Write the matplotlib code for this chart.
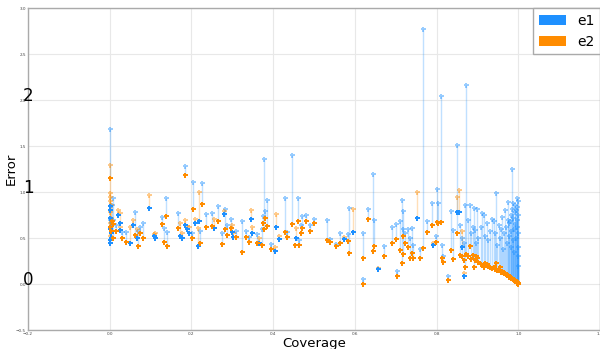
import numpy as np
import matplotlib
matplotlib.use("Agg")
import matplotlib.pyplot as plt
from matplotlib.patches import Patch

# ---- data (coverage, e1, e2 per item) ----
coverage = [
    0.000, 0.000, 0.001, 0.001, 0.000, 0.002, 0.000, 0.001, 0.002, 0.000,
    0.001, 0.003, 0.005, 0.008, 0.008, 0.015, 0.020, 0.025, 0.025, 0.030,
    0.041, 0.049, 0.058, 0.061, 0.066, 0.069, 0.075, 0.082, 0.096, 0.108,
    0.112, 0.127, 0.133, 0.137, 0.140, 0.166, 0.172, 0.176, 0.184, 0.184,
    0.188, 0.195,
    0.203, 0.201, 0.208, 0.216, 0.218, 0.220, 0.227, 0.235, 0.250, 0.256,
    0.265, 0.275, 0.280, 0.283, 0.286, 0.297, 0.300, 0.302, 0.309, 0.324,
    0.333, 0.341, 0.347, 0.349, 0.361, 0.366, 0.372, 0.374, 0.377, 0.379,
    0.386, 0.395, 0.405, 0.407, 0.415, 0.429, 0.433, 0.445,
    0.454, 0.456, 0.460, 0.463, 0.469, 0.471, 0.480, 0.489, 0.500, 0.533,
    0.539, 0.553, 0.564, 0.574, 0.584, 0.586, 0.595, 0.619, 0.621, 0.632,
    0.645, 0.648, 0.656, 0.672, 0.692, 0.700, 0.704, 0.711, 0.715, 0.717,
    0.719, 0.723, 0.730, 0.735, 0.739, 0.743, 0.752,
    0.760, 0.768, 0.776, 0.790, 0.792, 0.799, 0.801, 0.803, 0.811, 0.813,
    0.815, 0.829, 0.835, 0.841, 0.849, 0.851, 0.854, 0.858, 0.862, 0.863,
    0.866, 0.868, 0.870, 0.873, 0.876, 0.881, 0.884, 0.888, 0.891,
    0.893, 0.896, 0.899, 0.902, 0.908, 0.911, 0.915, 0.918, 0.923, 0.927,
    0.931, 0.935, 0.940, 0.943, 0.946, 0.949, 0.952, 0.955, 0.958, 0.960,
    0.963, 0.966, 0.968, 0.970, 0.972, 0.974, 0.976, 0.977, 0.978, 0.980,
    0.981, 0.982, 0.983, 0.984, 0.985, 0.986, 0.987, 0.988, 0.989, 0.990,
    0.991, 0.992, 0.993, 0.994, 0.995, 0.996, 0.997, 0.998, 0.998, 0.999,
    0.999, 1.000, 1.000, 1.000, 1.000,
]
e1 = [
    1.68, 0.80, 0.72, 0.62, 0.85, 0.55, 0.70, 0.48, 0.66, 0.45,
    0.60, 0.50, 0.86, 0.94, 0.70, 0.64, 0.75, 0.66, 0.59, 0.57,
    0.56, 0.45, 0.64, 0.78, 0.50, 0.58, 0.62, 0.66, 0.83, 0.52,
    0.50, 0.73, 0.61, 0.93, 0.57, 0.77, 0.52, 0.50, 1.28, 0.64,
    0.60, 0.55,
    1.11, 0.55, 0.66, 0.41, 0.68, 0.58, 1.10, 0.76, 0.77, 0.61,
    0.85, 0.55, 0.76, 0.82, 0.64, 0.71, 0.56, 0.51, 0.58, 0.69,
    0.58, 0.51, 0.71, 0.55, 0.54, 0.45, 0.60, 0.74, 1.36, 0.79,
    0.91, 0.44, 0.36, 0.62, 0.49, 0.94, 0.56, 1.40,
    0.42, 0.50, 0.93, 0.48, 0.64, 0.74, 0.75, 0.64, 0.71, 0.70,
    0.49, 0.43, 0.55, 0.49, 0.54, 0.83, 0.56, 0.05, 0.55, 0.82,
    1.20, 0.70, 0.16, 0.41, 0.62, 0.65, 0.14, 0.68, 0.91, 0.60,
    0.79, 0.55, 0.60, 0.50, 0.61, 0.42, 0.72,
    0.38, 2.77, 0.69, 0.88, 0.42, 0.52, 1.03, 0.88, 2.04, 0.42,
    0.30, 0.09, 0.79, 0.59, 1.51, 0.78, 0.78, 0.64, 0.50, 0.40,
    0.45, 0.09, 0.86, 2.16, 0.70, 0.86, 0.55, 0.62, 0.83,
    0.59, 0.45, 0.82, 0.50, 0.62, 0.77, 0.75, 0.52, 0.66, 0.48,
    0.58, 0.71, 0.68, 0.55, 0.99, 0.42, 0.64, 0.50, 0.60, 0.73,
    0.38, 0.55, 0.80, 0.62, 0.45, 0.70, 0.89, 0.52, 0.66, 0.68,
    0.40, 0.75, 0.58, 1.25, 0.82, 0.48, 0.72, 0.88, 0.60, 0.35,
    0.78, 0.86, 0.65, 0.50, 0.80, 0.70, 0.84, 0.62, 0.93, 0.75,
    0.40, 0.90, 0.55, 0.30, 0.20,
]
e2 = [
    1.15, 1.29, 0.99, 0.95, 0.90, 0.86, 0.62, 0.66, 0.58, 0.52,
    0.78, 0.72, 0.68, 0.65, 0.50, 0.58, 0.80, 0.77, 0.62, 0.50,
    0.46, 0.62, 0.70, 0.53, 0.60, 0.41, 0.55, 0.50, 0.97, 0.54,
    0.55, 0.65, 0.46, 0.74, 0.41, 0.61, 0.66, 0.55, 1.19, 0.70,
    0.63, 0.62,
    0.81, 0.50, 0.71, 0.61, 1.00, 0.45, 0.87, 0.62, 0.63, 0.71,
    0.69, 0.43, 0.79, 0.60, 0.53, 0.61, 0.64, 0.55, 0.51, 0.35,
    0.51, 0.46, 0.80, 0.62, 0.45, 0.50, 0.42, 0.66, 0.60, 0.72,
    0.63, 0.38, 0.40, 0.76, 0.52, 0.57, 0.51, 0.65,
    0.42, 0.61, 0.69, 0.42, 0.55, 0.61, 0.68, 0.58, 0.66, 0.48,
    0.46, 0.41, 0.45, 0.51, 0.47, 0.34, 0.82, 0.00, 0.28, 0.71,
    0.36, 0.41, 0.17, 0.30, 0.45, 0.49, 0.09, 0.37, 0.23, 0.52,
    0.33, 0.45, 0.40, 0.28, 0.34, 0.28, 1.00,
    0.28, 0.39, 0.56, 0.64, 0.45, 0.46, 0.67, 0.66, 0.67, 0.28,
    0.24, 0.04, 0.37, 0.27, 0.55, 0.95, 1.02, 0.32, 0.30, 0.58,
    0.26, 0.12, 0.19, 0.33, 0.30, 0.41, 0.27, 0.32, 0.19,
    0.26, 0.30, 0.28, 0.24, 0.22, 0.21, 0.19, 0.23, 0.22, 0.20,
    0.18, 0.17, 0.19, 0.16, 0.23, 0.15, 0.15, 0.18, 0.13, 0.14,
    0.13, 0.12, 0.12, 0.11, 0.10, 0.10, 0.10, 0.09, 0.08, 0.08,
    0.07, 0.07, 0.06, 0.06, 0.06, 0.05, 0.05, 0.05, 0.04, 0.04,
    0.04, 0.04, 0.03, 0.03, 0.03, 0.02, 0.02, 0.02, 0.01, 0.01,
    0.01, 0.00, 0.00, 0.01, 0.00,
]
series_labels = ["e1", "e2"]
big_tick_values = [0, 1, 2]

# ---- style ----
BLUE = "#1E90FF"
ORANGE = "#FF8C00"
GRID = "#e8e8e8"
SPINE = "#aaaaaa"

cov = np.asarray(coverage)
a = np.asarray(e1)
b = np.asarray(e2)
assert len(cov) == len(a) == len(b)

fig = plt.figure(figsize=(6.0, 3.49), dpi=100)
ax = fig.add_axes([28 / 600, 19 / 349, 572 / 600, 322 / 349])

ax.set_xlim(-0.2, 1.2)
ax.set_ylim(-0.5, 3.0)
ax.set_xticks(np.arange(-0.2, 1.21, 0.2))
ax.set_yticks(np.arange(-0.5, 3.01, 0.5))
ax.grid(True, color=GRID, linewidth=0.8, zorder=0)
ax.set_axisbelow(True)
ax.tick_params(axis="both", length=0, labelsize=3, pad=1.5, labelcolor="#444444")
for s in ax.spines.values():
    s.set_color(SPINE)
    s.set_linewidth(1.0)

m1 = a >= b   # e1 is upper
m2 = ~m1      # e2 is upper

ax.vlines(cov[m1], b[m1], a[m1], color=BLUE, alpha=0.28, linewidth=1.0, zorder=2)
ax.vlines(cov[m2], a[m2], b[m2], color=ORANGE, alpha=0.28, linewidth=1.0, zorder=2)

ms = 3.6
# upper points (light)
ax.plot(cov[m1], a[m1], "P", color=BLUE, alpha=0.45, ms=ms, mew=0, zorder=3)
ax.plot(cov[m2], b[m2], "P", color=ORANGE, alpha=0.45, ms=ms, mew=0, zorder=3)
# lower points (solid)
ax.plot(cov[m2], a[m2], "P", color=BLUE, ms=ms, mew=0, zorder=4)
ax.plot(cov[m1], b[m1], "P", color=ORANGE, ms=ms, mew=0, zorder=4)

# large overlay tick numbers on the left
for v in big_tick_values:
    ax.text(-0.2, v + 0.045, str(v), ha="center", va="center", fontsize=12,
            color="black", clip_on=False, zorder=6)

ax.set_xlabel("Coverage", fontsize=9.5, labelpad=1)
ax.set_ylabel("Error", fontsize=9.5)
ax.yaxis.set_label_coords(-0.018, 0.5)

handles = [Patch(facecolor=BLUE, label=series_labels[0]),
           Patch(facecolor=ORANGE, label=series_labels[1])]
leg = ax.legend(handles=handles, loc="upper right", borderaxespad=0,
                fontsize=10, fancybox=False, handlelength=1.95,
                handleheight=0.7, framealpha=1)
leg.get_frame().set_edgecolor(SPINE)
leg.get_frame().set_linewidth(1.0)

fig.savefig("out.png", dpi=100)
